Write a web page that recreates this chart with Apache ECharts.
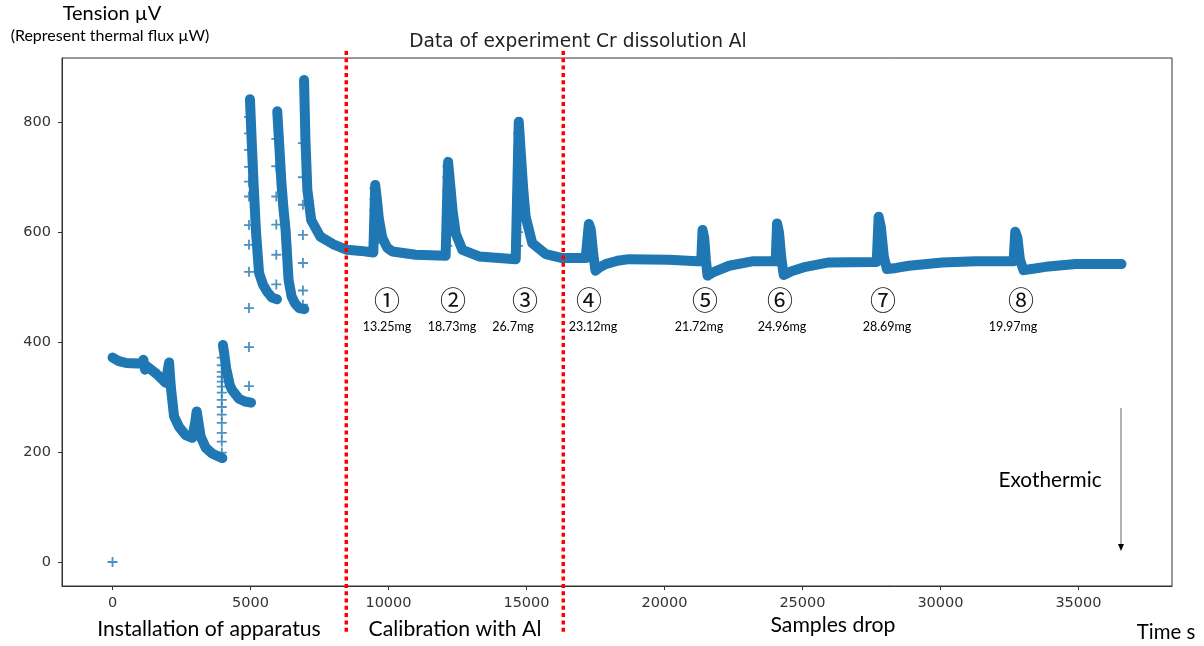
<!DOCTYPE html>
<html><head><meta charset="utf-8">
<script src="https://cdn.jsdelivr.net/npm/echarts@6/dist/echarts.min.js"></script>
<style>html,body{margin:0;padding:0;background:#fff}#c{width:1204px;height:646px}</style>
</head><body><div id="c"></div>
<script>
// ---------- DATA (time s, tension µV) ----------
const xTicks = [0, 5000, 10000, 15000, 20000, 25000, 30000, 35000];
const yTicks = [0, 200, 400, 600, 800];

const originT = [0], originV = [0];

const seg1T = [0,200,500,900,1050,1120,1180,1250,1400,1600,1930,1990,2050,2110,2230,2410,2650,2890,3000,3050,3110,3195,3375,3620,3980];
const seg1V = [372,366,362,361,362,368,350,356,350,342,326,345,363,320,265,246,231,226,255,274,255,228,208,197,189];

const seg2T = [4000,4040,4120,4250,4330,4580,4800,5020];
const seg2V = [395,382,352,322,313,297,292,290];

const seg3T = [4980,5040,5110,5200,5310,5450,5600,5780,5960];
const seg3V = [842,770,690,600,526,505,492,481,478];

const seg4T = [5970,6040,6120,6200,6270,6380,6490,6620,6760,6950];
const seg4V = [820,760,690,640,605,513,483,470,462,460];

const seg5T = [6940,6990,7060,7200,7530,8000,8500,9000,9450,
  9520,9580,9650,9775,9950,10140,10985,12070,12110,
  12160,12230,12320,12435,12675,13280,14610,14660,
  14720,14800,14880,14970,15210,15700,16300,17145,17200,
  17260,17330,17420,17500,17650,17870,18300,18715,20160,21190,21330,
  21380,21440,21500,21560,21800,22340,23180,23905,24030,
  24080,24150,24230,24320,24600,25115,25960,27530,27690,
  27760,27840,27950,28060,28400,28860,30065,31275,32540,32650,
  32710,32790,32880,33010,33300,33810,34900,36560];
const seg5V = [877,770,677,622,592,578,568,566,563,
  686,660,625,590,572,565,559,557,557,
  728,690,640,598,568,556,551,551,
  801,740,680,628,580,560,553,553,553,
  615,605,560,530,536,542,548,551,550,547,547,
  604,590,550,521,528,539,547,547,547,
  616,600,555,522,529,537,545,546,546,
  628,610,555,533,535,539,545,547,547,547,
  601,590,550,531,533,537,542,542];

// sparse samples during fast rises (t, values)
const riseA_T = 3960, riseA_V = [199,219,235,253,268,282,295,308,319,328,337,346,358,372];
const riseB_T = 4945, riseB_V = [320,391,462,528,577,613,665,692,719,750,780,810];
const riseC_T = 5935, riseC_V = [505,559,614,665,720,770];
const riseD_T = 6900, riseD_V = [468,494,544,595,650,700,762];
const riseE_T = 9495, riseE_V = [580,600,620,640,660,680];
const riseF_T = 12135, riseF_V = [575,600,625,650,675,700,720];
const riseG_T = 14695, riseG_V = [575,600,630,660,690,720,750,780];

// annotation texts
const circleLabels = ['①','②','③','④','⑤','⑥','⑦','⑧'];
const massLabels = ['13.25mg','18.73mg','26.7mg','23.12mg','21.72mg','24.96mg','28.69mg','19.97mg'];
const phaseLabels = ['Installation of apparatus','Calibration with Al','Samples drop'];
const phaseBoundaries = [8471, 16333];

// ---------- helpers ----------
const zip = (ts, vs) => ts.map((t, i) => [t, vs[i]]);
const col = (t, vs) => vs.map(v => [t, v]);

const BLUE = '#1f77b4';
const PLUS = 'path://M0,4.1H10V5.9H0Z M4.1,0H5.9V10H4.1Z';

const lineSeries = (d) => ({
  type: 'line', data: d, symbol: 'none', silent: true,
  lineStyle: { color: BLUE, width: 10, cap: 'round', join: 'round' }, z: 2
});

const scatterPts = [].concat(
  zip(originT, originV),
  col(riseA_T, riseA_V), col(riseB_T, riseB_V), col(riseC_T, riseC_V),
  col(riseD_T, riseD_V), col(riseE_T, riseE_V), col(riseF_T, riseF_V), col(riseG_T, riseG_V)
);

const chart = echarts.init(document.getElementById('c'), null, { renderer: 'canvas' });
const tickFont = { fontFamily: 'DejaVu Sans', fontSize: 14.5, color: '#333', formatter: v => String(v) };

chart.setOption({
  animation: false,
  backgroundColor: '#fff',
  grid: { left: 62, top: 58, width: 1110, height: 528, show: true, borderColor: '#333', borderWidth: 1 },
  xAxis: {
    type: 'value', min: -1830, max: 38390,
    axisLine: { show: true, onZero: false, lineStyle: { color: '#333', width: 1 } },
    axisTick: { show: true, customValues: xTicks, length: 4, lineStyle: { color: '#333' } },
    axisLabel: Object.assign({ customValues: xTicks, margin: 10 }, tickFont),
    splitLine: { show: false }
  },
  yAxis: {
    type: 'value', min: -43.7, max: 917,
    axisLine: { show: true, onZero: false, lineStyle: { color: '#333', width: 1 } },
    axisTick: { show: true, customValues: yTicks, length: 4, lineStyle: { color: '#333' } },
    axisLabel: Object.assign({ customValues: yTicks, margin: 11 }, tickFont),
    splitLine: { show: false }
  },
  series: [
    lineSeries(zip(seg1T, seg1V)),
    lineSeries(zip(seg2T, seg2V)),
    lineSeries(zip(seg3T, seg3V)),
    lineSeries(zip(seg4T, seg4V)),
    lineSeries(zip(seg5T, seg5V)),
    { type: 'scatter', data: scatterPts, symbol: PLUS, symbolSize: 10, silent: true,
      itemStyle: { color: BLUE }, z: 3 }
  ]
});

// ---------- annotations ----------
const px = (t) => chart.convertToPixel({ xAxisIndex: 0 }, t);
const txt = (text, x, y, size, family, extra) => ({
  type: 'text', x: x, y: y, z: 100, silent: true,
  style: Object.assign({ text: text, fontSize: size, fontFamily: family, fill: '#000',
    align: 'center', verticalAlign: 'middle' }, extra || {})
});

const circleX = [387, 453, 525, 589, 705, 780, 883, 1021];
const massX = [387, 452, 513, 593, 699, 782, 887, 1013];
const phaseX = [209, 455, 833];
const phaseY = [629, 629, 625];

const g = [];
phaseBoundaries.forEach(t => {
  const x = px(t);
  g.push({ type: 'line', z: 100, silent: true,
    shape: { x1: x, y1: 51, x2: x, y2: 632 },
    style: { stroke: '#ff0000', lineWidth: 3.5, lineDash: [4, 3.3] } });
});
circleLabels.forEach((s, i) => g.push(txt(s, circleX[i], 300, 26, 'Noto Sans CJK JP', { fill: '#111' })));
massLabels.forEach((s, i) => g.push(txt(s, massX[i], 327, 12.5, 'Lato')));
phaseLabels.forEach((s, i) => g.push(txt(s, phaseX[i], phaseY[i], 21.2, 'Lato')));
g.push(txt('Time s', 1166, 632, 20.4, 'Lato'));
g.push(txt('Exothermic', 1050, 480, 20.8, 'Lato'));
g.push(txt('Tension µV', 112, 14, 20, 'Lato'));
g.push(txt('(Represent thermal flux µW)', 110, 36, 16, 'Lato'));
g.push(txt('Data of experiment Cr dissolution Al', 578, 42, 18.6, 'DejaVu Sans', { fill: '#222' }));
g.push({ type: 'line', z: 100, silent: true, shape: { x1: 1121, y1: 408, x2: 1121, y2: 546 },
  style: { stroke: '#666', lineWidth: 1 } });
g.push({ type: 'polygon', z: 100, silent: true, shape: { points: [[1118, 544], [1124, 544], [1121, 551]] },
  style: { fill: '#000' } });

chart.setOption({ graphic: g });
</script></body></html>
